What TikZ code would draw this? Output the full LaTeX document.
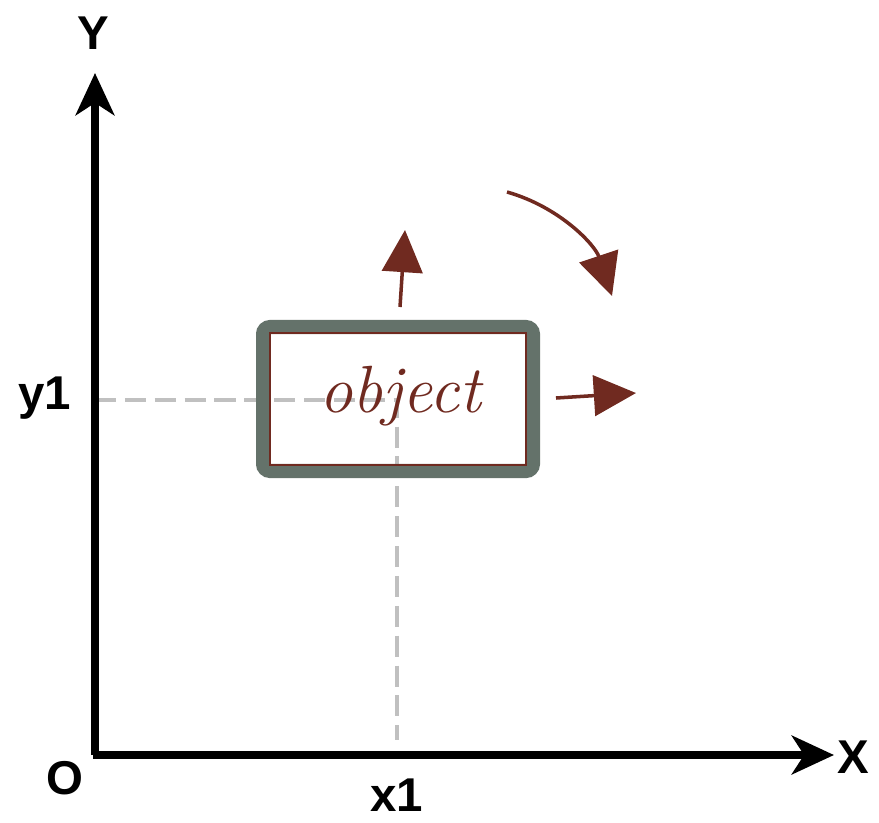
\documentclass[tikz,border=0pt]{standalone}
\usepackage{fontspec}
\setsansfont{Liberation Sans}
\usepackage{tikz}
\usepackage{xcolor}
\usetikzlibrary{arrows.meta,positioning,calc}
\definecolor{boxgrey}{RGB}{100,114,106}
\definecolor{inkbrown}{RGB}{112,42,32}
\definecolor{guidegrey}{RGB}{192,192,192}
\tikzset{
  axislbl/.style={font=\sffamily\bfseries\fontsize{27}{30}\selectfont},
  guide/.style={guidegrey, line width=2.3pt, dash pattern=on 12pt off 5pt},
  move/.style={inkbrown, line width=2pt, -{Triangle[length=24pt,width=23pt]}}
}
\begin{document}
\begin{tikzpicture}[x=0.02cm, y=-0.02cm, >={Stealth[length=24pt,width=22pt,inset=7pt]}]
\useasboundingbox (0,0) rectangle (879,822);
% axes
\coordinate (o) at (95,755);
\coordinate (ytip) at (95,73);
\coordinate (xtip) at (834,755);
\coordinate (p) at (397,400);
\node[axislbl] (ylab) at (93,33) {Y};
\node[axislbl] (xlab) at (853,757) {X};
\node[axislbl] (olab) at (65,778) {O};
\node[axislbl] (x1lab) at (397,795) {x1};
\node[axislbl] (y1lab) at (45,398) {y1};
% guides to the object
\draw[guide] (o |- p) -- (p) -- ($(o -| p)+(0,-15)$);
\draw[->, line width=4.4pt] (o) -- (ytip);
\draw[->, line width=4.4pt] ($(o)+(-2,0)$) -- (xtip);
% the object
\node[draw=boxgrey, line width=8pt, rounded corners=4pt, minimum width=5.4cm, minimum height=2.88cm] (obj) at (398,399) {};
\node[draw=inkbrown, line width=1pt, minimum width=5.12cm, minimum height=2.64cm] (inner) at (398,399) {};
\node[inkbrown, font=\itshape\fontsize{38}{40}\selectfont] (objtxt) at (400,396) {object};
% moves
\coordinate (ua) at (400,307);
\coordinate (ub) at (405,230);
\coordinate (ra) at (556,398);
\coordinate (rb) at (636,393);
\coordinate (ca) at (507,192);
\coordinate (cb) at (612,296);
\draw[move] (ua) -- (ub);
\draw[move] (ra) -- (rb);
\draw[move] (ca) .. controls (560,207) and (595,245) .. (cb);
\end{tikzpicture}
\end{document}
